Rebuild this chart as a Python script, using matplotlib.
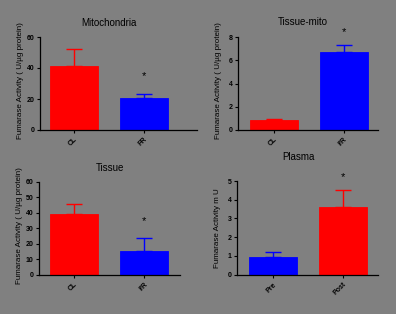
import matplotlib
matplotlib.use("Agg")
import matplotlib.pyplot as plt

BG = "#808080"
RED = "#FF0000"
BLUE = "#0000FF"

# Data
titles = ["Mitochondria", "Tissue-mito", "Tissue", "Plasma"]
categories = [["CL", "FR"], ["CL", "I/R"], ["CL", "I/R"], ["Pre", "Post"]]
means = [[41, 20.5], [0.85, 6.7], [39.5, 15.5], [0.92, 3.6]]
errors = [[11, 3], [0.1, 0.65], [6.5, 8], [0.28, 0.9]]
star_values = [35, 8.4, 34.7, 5.2]
ymax = [60, 8, 60, 5]
ysteps = [20, 2, 10, 1]
ylabels = ["Fumarase Activity ( U/µg protein)",
           "Fumarase Activity ( U/µg protein)",
           "Fumarase Activity ( U/µg protein)",
           "Fumarase Activity m U"]
bar_colors = [[RED, BLUE], [RED, BLUE], [RED, BLUE], [BLUE, RED]]

plt.rcParams["font.family"] = ["Liberation Sans", "DejaVu Sans"]

W, H = 396, 314
fig = plt.figure(figsize=(W / 100, H / 100), dpi=100, facecolor=BG)

# axes pixel boxes: left, right, top, bottom ; xlims
boxes = [(40, 197, 37, 130), (238, 378, 37, 130), (39, 180, 182, 274.7), (237, 378, 181, 274.7)]
xlims = [(-0.49, 1.76), (-0.51, 1.49), (-0.5, 1.51), (-0.51, 1.5)]
title_y = [23, 22, 168, 157]
title_x = [109, 303, 110, 298]
label_y = [0.53, 0.53, 0.53, 0.5]

for i in range(4):
    l, r, t, b = boxes[i]
    ax = fig.add_axes([l / W, 1 - b / H, (r - l) / W, (b - t) / H])
    ax.set_facecolor(BG)
    x = [0, 1]
    ax.bar(x, means[i], width=0.686, color=bar_colors[i], edgecolor=bar_colors[i],
           linewidth=0.6, zorder=2)
    for xi, m, e, c in zip(x, means[i], errors[i], bar_colors[i]):
        ax.errorbar([xi], [m], yerr=[[0], [e]], fmt="none", ecolor=c,
                    elinewidth=1.0, capsize=5.8, capthick=1.0, zorder=3)
    ax.text(1, star_values[i], "*", ha="center", va="center", fontsize=8, color="black")
    ax.set_xlim(*xlims[i])
    ax.set_ylim(0, ymax[i])
    ax.set_yticks(range(0, ymax[i] + 1, ysteps[i]))
    ax.set_xticks(x)
    ax.set_xticklabels(categories[i], rotation=45, ha="right", rotation_mode="anchor",
                       fontsize=5, fontweight="bold")
    ax.tick_params(axis="y", labelsize=5, length=2.5, width=0.8, pad=1.5)
    ax.tick_params(axis="x", length=2.5, width=0.8, pad=2)
    for lab in ax.get_yticklabels():
        lab.set_fontweight("bold")
    for s in ["top", "right"]:
        ax.spines[s].set_visible(False)
    for s in ["left", "bottom"]:
        ax.spines[s].set_linewidth(0.9)
        ax.spines[s].set_color("black")
    ax.set_ylabel(ylabels[i], fontsize=5.8)
    ax.yaxis.set_label_coords(-16 / (r - l), label_y[i])
    fig.text(title_x[i] / W, 1 - title_y[i] / H, titles[i],
             ha="center", va="center", fontsize=7)

fig.savefig("out.png", dpi=100, facecolor=BG)
